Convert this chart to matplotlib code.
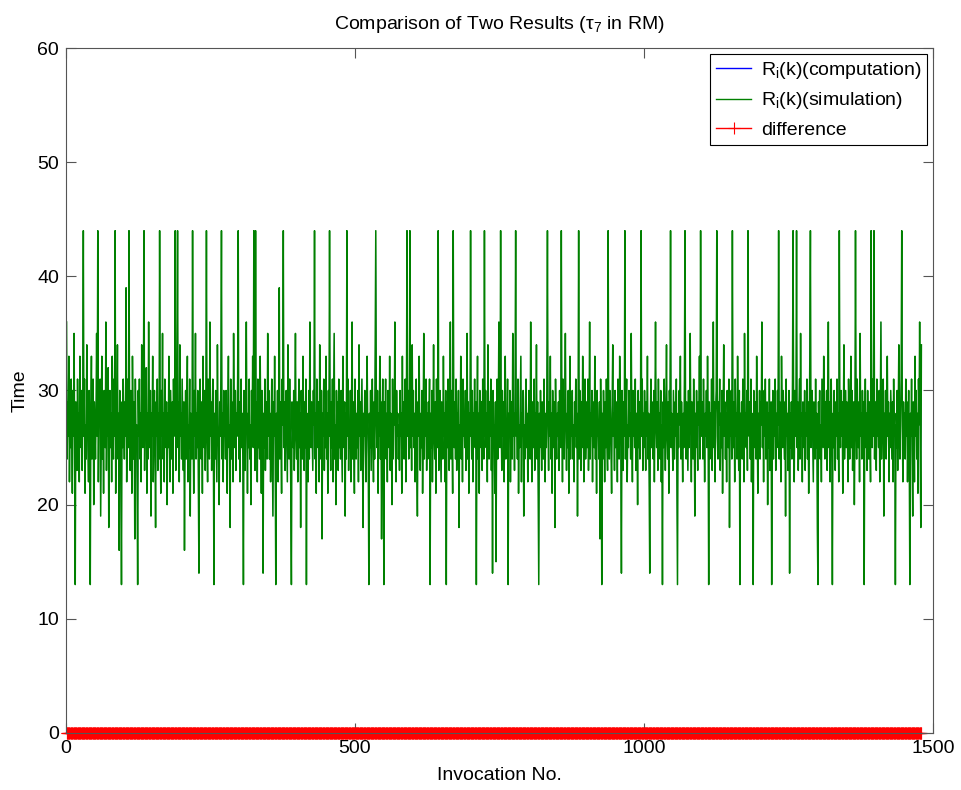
import matplotlib
matplotlib.use('Agg')
import matplotlib.pyplot as plt
import numpy as np

plt.rcParams['font.family'] = ['Liberation Sans', 'DejaVu Sans']
plt.rcParams['mathtext.fontset'] = 'custom'
plt.rcParams['mathtext.rm'] = 'Liberation Sans'
plt.rcParams['mathtext.it'] = 'Liberation Sans'

# response time per invocation (simulation) (25 per row)
sim_time = [
    36, 24, 29, 26, 33, 22, 28, 25, 31, 27, 21, 30, 26, 35, 24, 13, 29, 27, 23, 31, 26, 28, 22, 33, 27,
    25, 30, 23, 28, 44, 26, 31, 21, 27, 24, 34, 29, 25, 22, 30, 27, 13, 28, 33, 24, 26, 31, 20, 29, 27,
    24, 28, 35, 26, 44, 22, 29, 27, 31, 19, 26, 33, 24, 28, 21, 30, 27, 25, 36, 23, 29, 26, 32, 18, 27,
    30, 25, 28, 22, 33, 27, 24, 31, 26, 44, 21, 29, 27, 34, 24, 28, 16, 30, 26, 23, 13, 29, 25, 31, 27,
    24, 29, 26, 39, 22, 28, 31, 25, 44, 27, 23, 30, 26, 21, 33, 28, 24, 29, 17, 31, 26, 27, 22, 13, 30,
    26, 31, 24, 28, 22, 34, 27, 25, 30, 44, 23, 29, 26, 32, 21, 28, 24, 36, 27, 25, 30, 19, 28, 26, 33,
    22, 27, 30, 25, 18, 29, 26, 31, 23, 28, 24, 44, 27, 21, 30, 26, 35, 24, 28, 22, 31, 27, 25, 29, 20,
    28, 25, 33, 26, 22, 30, 27, 24, 29, 21, 31, 26, 28, 44, 23, 27, 30, 44, 25, 29, 22, 34, 26, 28, 24,
    31, 27, 23, 29, 16, 26, 30, 24, 28, 33, 22, 27, 25, 31, 19, 28, 26, 24, 44, 27, 21, 30, 26, 35, 24,
    28, 25, 30, 22, 14, 27, 31, 26, 24, 29, 21, 33, 27, 25, 30, 23, 28, 44, 26, 22, 31, 27, 24, 36, 26,
    29, 23, 27, 31, 25, 13, 28, 24, 30, 26, 22, 34, 27, 25, 20, 29, 26, 31, 44, 24, 28, 22, 30, 26, 27,
    24, 30, 26, 21, 28, 33, 25, 27, 18, 31, 24, 29, 26, 22, 35, 27, 25, 30, 23, 28, 26, 31, 44, 24, 29,
    22, 27, 31, 25, 28, 24, 13, 30, 26, 23, 29, 36, 27, 21, 28, 25, 31, 24, 27, 20, 30, 26, 33, 25, 44,
    27, 23, 44, 26, 29, 22, 31, 25, 28, 24, 33, 27, 21, 30, 26, 14, 28, 25, 31, 23, 27, 29, 24, 35, 26,
    30, 24, 28, 22, 27, 31, 25, 19, 29, 26, 33, 24, 13, 28, 25, 30, 22, 27, 39, 24, 29, 26, 21, 31, 27,
    44, 25, 29, 23, 27, 30, 26, 22, 34, 28, 24, 31, 26, 21, 13, 29, 27, 25, 30, 23, 28, 35, 26, 24, 29,
    22, 27, 31, 25, 28, 18, 30, 26, 24, 33, 27, 23, 29, 25, 31, 13, 28, 26, 22, 30, 24, 36, 27, 25, 29,
    26, 23, 30, 27, 44, 24, 28, 21, 31, 26, 25, 29, 22, 34, 27, 24, 30, 17, 28, 26, 31, 23, 27, 25, 33,
    24, 28, 21, 30, 26, 44, 27, 23, 29, 25, 31, 22, 28, 35, 24, 27, 20, 30, 26, 29, 23, 31, 25, 28, 24,
    30, 26, 22, 33, 27, 25, 29, 19, 28, 24, 44, 26, 31, 23, 27, 25, 30, 22, 28, 36, 24, 29, 26, 21, 31,
    27, 24, 28, 25, 30, 22, 34, 26, 29, 23, 27, 31, 24, 18, 28, 26, 30, 25, 22, 29, 33, 27, 24, 13, 28,
    25, 30, 23, 27, 31, 26, 22, 29, 24, 35, 44, 27, 25, 30, 21, 28, 26, 33, 24, 29, 17, 27, 31, 25, 13,
    29, 26, 31, 24, 28, 22, 30, 27, 25, 33, 23, 28, 26, 20, 31, 24, 29, 27, 36, 25, 22, 30, 26, 28, 24,
    27, 23, 30, 26, 28, 21, 33, 25, 29, 24, 27, 31, 22, 28, 44, 26, 30, 24, 27, 44, 25, 29, 23, 34, 26,
    30, 25, 28, 22, 27, 31, 24, 19, 29, 26, 33, 27, 23, 28, 25, 30, 21, 27, 35, 24, 29, 26, 31, 23, 28,
    24, 29, 26, 31, 13, 28, 25, 30, 22, 27, 34, 26, 24, 29, 21, 31, 27, 25, 44, 23, 28, 30, 26, 22, 29,
    27, 24, 33, 26, 28, 22, 30, 13, 29, 25, 31, 27, 23, 28, 36, 24, 30, 26, 21, 44, 27, 25, 29, 24, 31,
    23, 28, 26, 30, 18, 27, 25, 33, 24, 29, 22, 31, 26, 28, 25, 30, 23, 27, 35, 24, 29, 21, 28, 26, 44,
    27, 24, 30, 22, 28, 26, 31, 25, 29, 13, 27, 33, 24, 28, 21, 30, 26, 25, 29, 23, 31, 27, 24, 44, 26,
    30, 25, 28, 22, 34, 27, 24, 29, 26, 31, 23, 28, 14, 30, 25, 27, 21, 29, 15, 26, 31, 24, 28, 36, 27,
    25, 44, 27, 23, 30, 26, 29, 22, 28, 33, 24, 27, 25, 31, 13, 28, 26, 30, 22, 27, 29, 24, 35, 26, 28,
    23, 30, 44, 26, 28, 24, 31, 21, 27, 25, 29, 33, 22, 28, 26, 30, 19, 27, 24, 29, 31, 25, 28, 22, 27,
    30, 26, 24, 36, 28, 22, 29, 27, 25, 31, 23, 28, 26, 34, 24, 29, 21, 13, 28, 25, 30, 26, 23, 29, 27,
    24, 31, 26, 22, 28, 25, 30, 44, 27, 23, 29, 26, 33, 24, 28, 21, 30, 27, 25, 29, 18, 31, 26, 24, 28,
    26, 29, 23, 30, 27, 25, 44, 28, 22, 31, 26, 24, 29, 35, 27, 23, 28, 25, 30, 21, 27, 33, 24, 29, 26,
    30, 24, 27, 22, 29, 26, 31, 25, 28, 19, 27, 44, 24, 30, 26, 23, 29, 25, 33, 27, 22, 28, 31, 24, 26,
    29, 25, 31, 23, 27, 36, 24, 28, 26, 30, 22, 29, 27, 25, 33, 24, 28, 21, 30, 26, 27, 24, 29, 17, 31,
    26, 13, 28, 24, 30, 27, 22, 29, 25, 31, 26, 23, 44, 27, 24, 30, 28, 25, 21, 29, 34, 26, 28, 23, 30,
    25, 29, 27, 22, 31, 26, 24, 33, 28, 25, 14, 30, 27, 23, 29, 26, 44, 24, 28, 31, 22, 27, 25, 30, 26,
    28, 24, 35, 27, 22, 30, 26, 29, 25, 31, 23, 28, 27, 20, 30, 25, 29, 24, 27, 44, 26, 31, 23, 28, 25,
    30, 27, 23, 29, 26, 33, 24, 28, 22, 14, 27, 31, 25, 29, 26, 24, 30, 22, 28, 36, 27, 25, 29, 23, 31,
    26, 28, 24, 30, 22, 27, 13, 29, 25, 31, 27, 23, 28, 34, 26, 24, 29, 21, 30, 27, 44, 25, 28, 26, 23,
    30, 27, 24, 29, 26, 31, 22, 13, 28, 25, 30, 27, 33, 24, 29, 26, 22, 28, 25, 31, 44, 27, 24, 29, 26,
    23, 30, 25, 28, 35, 27, 22, 29, 26, 24, 31, 27, 19, 28, 25, 30, 26, 23, 29, 27, 33, 24, 44, 28, 26,
    29, 24, 31, 27, 22, 28, 26, 30, 25, 33, 27, 13, 29, 24, 28, 26, 31, 23, 27, 36, 25, 29, 22, 28, 30,
    44, 26, 24, 29, 27, 31, 23, 28, 25, 30, 21, 27, 34, 26, 29, 24, 28, 22, 30, 27, 25, 31, 18, 28, 26,
    30, 24, 44, 27, 25, 29, 22, 31, 26, 28, 24, 33, 27, 23, 30, 13, 28, 26, 29, 24, 31, 27, 22, 35, 26,
    28, 25, 30, 23, 44, 27, 26, 29, 24, 31, 22, 28, 26, 13, 30, 27, 25, 29, 24, 33, 27, 21, 28, 26, 30,
    24, 29, 27, 36, 25, 28, 22, 30, 26, 31, 24, 27, 29, 20, 28, 25, 31, 23, 27, 29, 13, 26, 30, 24, 28,
    26, 31, 23, 28, 25, 30, 27, 44, 24, 29, 26, 22, 33, 28, 25, 30, 27, 24, 29, 19, 31, 26, 28, 23, 27,
    30, 14, 28, 25, 29, 24, 31, 44, 27, 22, 30, 26, 28, 44, 25, 29, 23, 27, 31, 24, 35, 26, 28, 22, 29,
    27, 25, 30, 23, 28, 26, 31, 24, 29, 21, 27, 33, 44, 25, 28, 30, 26, 22, 29, 27, 24, 31, 25, 28, 18,
    13, 29, 26, 30, 24, 27, 22, 31, 28, 25, 33, 27, 24, 29, 26, 30, 23, 28, 36, 25, 29, 22, 27, 31, 26,
    13, 28, 25, 30, 27, 23, 29, 26, 31, 24, 28, 22, 44, 27, 25, 30, 26, 29, 21, 28, 34, 24, 27, 30, 25,
    29, 26, 22, 31, 27, 24, 28, 33, 25, 30, 23, 27, 29, 20, 26, 44, 28, 24, 31, 27, 25, 29, 22, 35, 26,
    28, 24, 30, 26, 29, 13, 27, 31, 25, 28, 23, 30, 26, 24, 29, 27, 22, 44, 28, 25, 31, 26, 44, 24, 29,
    27, 23, 31, 26, 28, 25, 30, 22, 29, 36, 24, 27, 26, 31, 19, 28, 25, 30, 24, 27, 33, 26, 29, 22, 28,
    25, 30, 27, 24, 29, 22, 31, 26, 28, 13, 27, 25, 30, 23, 29, 34, 26, 24, 28, 31, 44, 27, 22, 29, 26,
    28, 24, 31, 26, 29, 22, 27, 30, 25, 13, 28, 26, 31, 24, 19, 29, 27, 22, 33, 26, 30, 24, 28, 21,
    31, 27, 36, 25, 18, 34,
]
# computed response times coincide with the simulated ones
comp_time = list(sim_time)

xticks = [0, 500, 1000, 1500]
yticks = [0, 10, 20, 30, 40, 50, 60]

sim = np.array(sim_time)
comp = np.array(comp_time)
diff = comp - sim
k = np.arange(1, len(sim) + 1)

fig = plt.figure(figsize=(9.62, 7.9), dpi=100)
ax = fig.add_axes([0.0686, 0.0722, 0.9012, 0.867])

# blue is hidden under the green one, as in the original
ax.plot(k, comp, color='#0000ff', lw=0.3, label='R$_i$(k)(computation)')
ax.plot(k, sim, color='#008000', lw=1.1, label='R$_i$(k)(simulation)')
ax.plot(k, diff, color='#ff0000', lw=1.0, marker='+', markersize=9, markeredgewidth=0.8,
        clip_on=False, label='difference')

ax.set_xlim(0, 1500)
ax.set_ylim(0, 60)
ax.set_xticks(xticks)
ax.set_yticks(yticks)
ax.tick_params(direction='in', top=True, right=True, length=7, labelsize=14,
               color='#555555', pad=5)
for s in ax.spines.values():
    s.set_color('#555555')

ax.set_title(r'Comparison of Two Results ($\tau_7$ in RM)', fontsize=14, pad=14)
ax.set_xlabel('Invocation No.', fontsize=14, labelpad=7)
ax.set_ylabel('Time', fontsize=14, labelpad=6)

leg = ax.legend(loc='upper right', fontsize=14, fancybox=False, framealpha=1,
                edgecolor='black', borderaxespad=0.3, handlelength=1.8,
                handletextpad=0.5, labelspacing=0.5, borderpad=0.3)
leg.get_frame().set_linewidth(0.8)
for h in leg.legend_handles:
    if h.get_marker() == '+':
        h.set_markevery([1])
    h.set_linewidth(1.0)

fig.savefig('out.png', dpi=100)
